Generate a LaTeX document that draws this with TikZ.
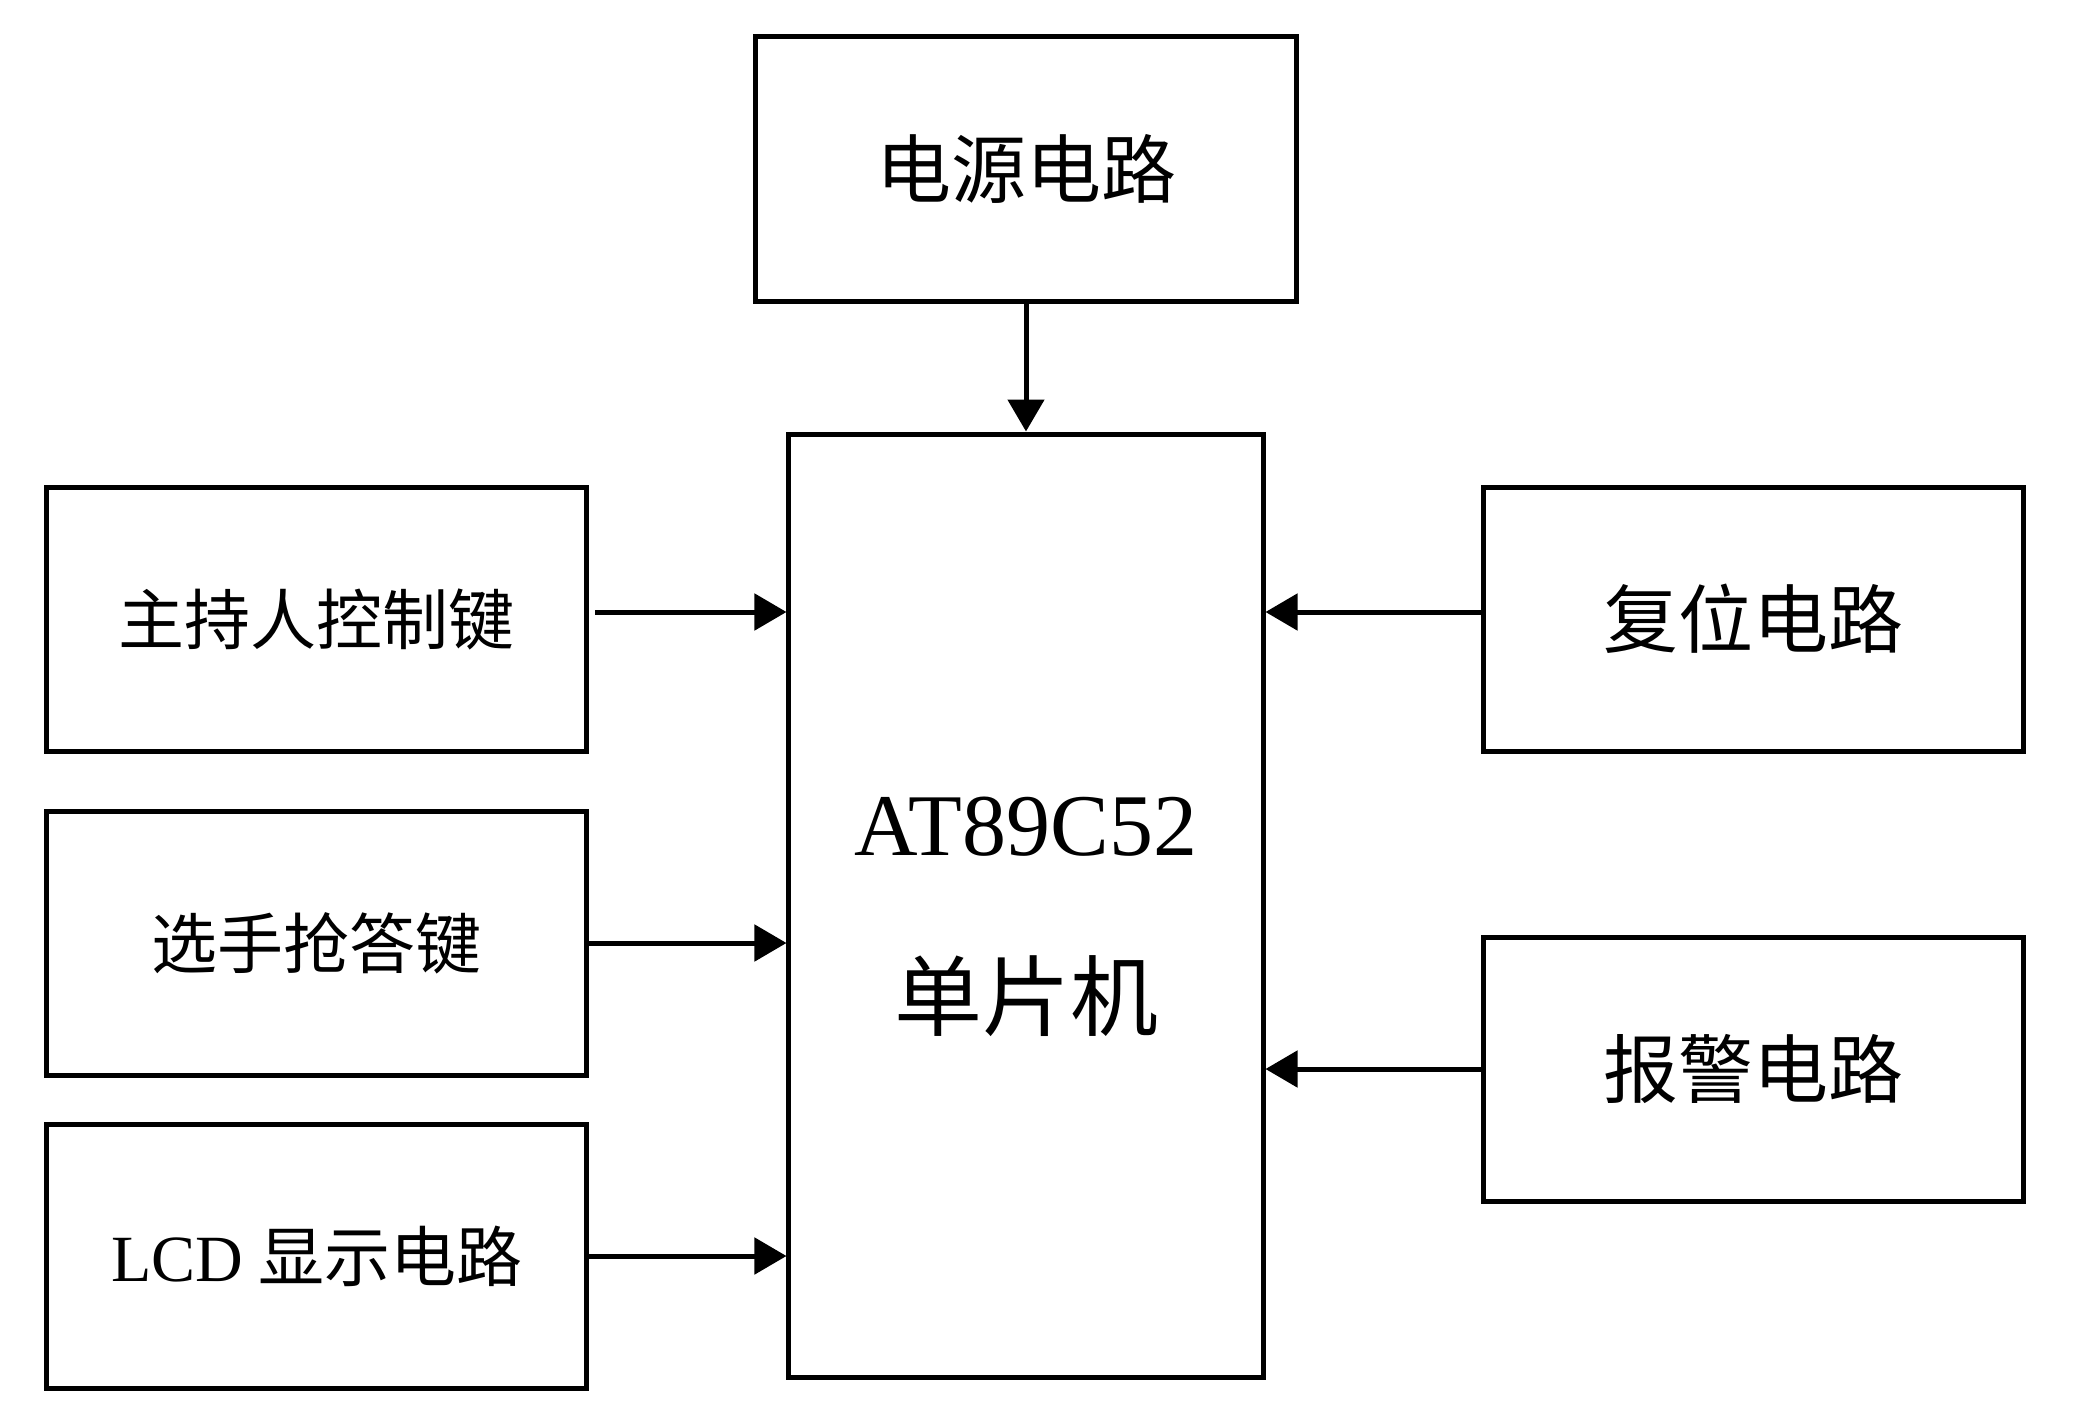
\documentclass[tikz,border=0pt]{standalone}
\usepackage{fontspec}
\setmainfont{Liberation Serif}
\newfontfamily\cjk{Noto Sans CJK SC}
\usetikzlibrary{arrows.meta}
\usetikzlibrary{positioning}
\tikzset {
  block/.style = {
    draw = black,
    line width = 2.5pt,
    inner sep = 0,
    align = center
  },
  % peripheral module
  unit/.style = {
    block,
    minimum width = 270pt,
    minimum height = 132pt,
    font = \fontsize{33}{40}\selectfont\cjk
  },
  % module with larger text
  big unit/.style = {
    unit,
    font = \fontsize{37.5}{45}\selectfont\cjk
  },
  % microcontroller
  chip/.style = {
    block,
    minimum width = 237pt,
    minimum height = 471.5pt,
    font = \fontsize{44}{87}\selectfont
  },
  % signal path
  arr/.style = {
    draw = black,
    line width = 2.5pt,
    -{Triangle[length=16pt,width=18pt]}
  }
}

\begin{document}
\begin{tikzpicture}
    \useasboundingbox (-513pt,-257.25pt) rectangle (527pt,452.75pt);
    \node[chip] (mcu) at (0,0) {\rule{0pt}{41pt}AT89C52\\\cjk 单片机};
    \node[big unit] (power) [above=64pt of mcu] {电源电路};
    \node[unit] (host-key) [below left=26.5pt and 98.5pt of mcu.north west] {主持人控制键};
    \node[unit] (player-key) [below=27.5pt of host-key] {选手抢答键};
    \node[unit] (lcd) [below=22pt of player-key] {{\rmfamily LCD} 显示电路};
    \node[big unit] (reset) [below right=26.5pt and 107.5pt of mcu.north east] {复位电路};
    \node[big unit] (alarm) [below=90.5pt of reset] {报警电路};

    \draw[arr] (power) -- (mcu);
    \draw[arr, shorten <=3pt] ([yshift=3.5pt]host-key.east) -- ([yshift=3.5pt]host-key.east -| mcu.west);
    \draw[arr] (player-key.east) -- (player-key.east -| mcu.west);
    \draw[arr] (lcd.east) -- (lcd.east -| mcu.west);
    \draw[arr] ([yshift=3.5pt]reset.west) -- ([yshift=3.5pt]reset.west -| mcu.east);
    \draw[arr] (alarm.west) -- (alarm.west -| mcu.east);
  \end{tikzpicture}
\end{document}
